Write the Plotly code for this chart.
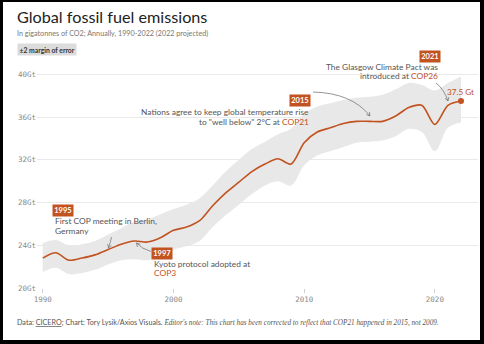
import math
import plotly.graph_objects as go

# ---------------- data ----------------
years = list(range(1990, 2023))
emissions = [22.8, 23.3, 22.6, 22.8, 23.1, 23.6, 24.1, 24.4, 24.3, 24.7,
             25.4, 25.7, 26.3, 27.7, 28.9, 29.9, 30.9, 31.6, 32.1, 31.6,
             33.6, 34.6, 35.0, 35.4, 35.6, 35.6, 35.6, 36.1, 36.9, 37.1,
             35.3, 37.1, 37.5]
upper = [24.2, 24.5, 24.0, 24.1, 24.4, 25.0, 25.6, 26.2, 26.4, 26.9,
         27.4, 27.8, 28.4, 29.6, 30.9, 32.0, 33.0, 33.7, 34.4, 34.9,
         36.3, 37.0, 37.3, 37.6, 37.8, 37.9, 38.1, 38.6, 39.2, 39.0,
         38.5, 39.2, 39.8]
lower = [21.5, 21.9, 21.3, 21.4, 21.7, 22.2, 22.6, 22.7, 22.6, 23.0,
         23.6, 23.9, 24.4, 25.7, 26.8, 27.8, 28.8, 29.6, 30.0, 29.6,
         31.5, 32.4, 32.8, 33.2, 33.6, 33.7, 33.8, 34.2, 34.9, 34.6,
         32.8, 35.0, 35.5]
y_ticks = [20, 24, 28, 32, 36, 40]
y_tick_labels = ["20Gt", "24Gt", "28Gt", "32Gt", "36Gt", "40Gt"]
x_ticks = [1990, 2000, 2010, 2020]
x_tick_labels = ["1990", "2000", "2010", "2020"]

# ---------------- styling / layout helpers ----------------
W, H = 484, 344
L, R, T, B = 37, 6, 69, 56
ORANGE = "#c2521f"
GREY_TXT = "#555555"
FONT = "Lato"
ANN_SIZE = 8.4


def px(x):
    return (x - L) / (W - L - R)


def py(y):
    return (H - B - y) / (H - T - B)


fig = go.Figure()

fig.add_trace(go.Scatter(x=years, y=lower, mode="lines",
                         line=dict(width=0, shape="spline", color="#e8e8e8"),
                         hoverinfo="skip", showlegend=False))
fig.add_trace(go.Scatter(x=years, y=upper, mode="lines", fill="tonexty",
                         fillcolor="#e8e8e8",
                         line=dict(width=0, shape="spline", color="#e8e8e8"),
                         hoverinfo="skip", showlegend=False))
fig.add_trace(go.Scatter(x=years, y=emissions, mode="lines",
                         line=dict(width=1.6, shape="spline", smoothing=0.8, color=ORANGE),
                         showlegend=False))
fig.add_trace(go.Scatter(x=[years[-1]], y=[emissions[-1]], mode="markers",
                         marker=dict(size=6, color=ORANGE),
                         showlegend=False))

annotations = []


def text(x, y, t, size=ANN_SIZE, color=GREY_TXT, xanchor="left", align="left", family=FONT, **kw):
    annotations.append(dict(xref="paper", yref="paper", x=px(x), y=py(y), text=t,
                            showarrow=False, xanchor=xanchor, yanchor="middle", align=align,
                            font=dict(size=size, color=color, family=family), **kw))


def badge(cx, cy, t):
    annotations.append(dict(xref="paper", yref="paper", x=px(cx), y=py(cy),
                            text="<b>" + t + "</b>", showarrow=False,
                            xanchor="center", yanchor="middle",
                            bgcolor=ORANGE, borderpad=1.2,
                            font=dict(size=7.5, color="white", family=FONT)))


def orange(t):
    return "<span style='color:%s'>%s</span>" % (ORANGE, t)


# Title & subtitle
text(15, 16, "Global fossil fuel emissions", size=16.2, color="#222222")
text(15, 34, "In gigatonnes of CO2; Annually, 1990-2022 (2022 projected)", size=7.2, color="#777777")
text(17, 49, "<b>±2 margin of error</b>", size=6.8, color="#333333",
     bgcolor="#dcdcdc", borderpad=1.5)

# Footer
text(15, 322,
     "Data: <u>CICERO</u>; Chart: Tory Lysik/Axios Visuals. "
     "<span style='font-family:Liberation Serif'><i>Editor's note: This chart has been corrected "
     "to reflect that COP21 happened in 2015, not 2009.</i></span>",
     size=7.2, color="#555555")

# Event annotations
badge(429.5, 56.5, "2021")
text(439.5, 66.7, "The Glasgow Climate Pact was", xanchor="right")
text(439.5, 76.2, "introduced at " + orange("COP26"), xanchor="right")
text(460, 91.5, "37.5 Gt", size=8.2, color=ORANGE, xanchor="center")

badge(300, 100.5, "2015")
text(311, 111.7, "Nations agree to keep global temperature rise", xanchor="right")
text(311, 121.5, "to \"well below\" 2°C at " + orange("COP21"), xanchor="right")

badge(63, 210.5, "1995")
text(52.5, 220.7, "First COP meeting in Berlin,")
text(52.5, 230.5, "Germany")

badge(162, 253.5, "1997")
text(152, 264, "Kyoto protocol adopted at")
text(152, 273.3, orange("COP3"))

shapes = []


def arrow(p0, c, p1, head=4.0):
    path = "M %f,%f Q %f,%f %f,%f" % (px(p0[0]), py(p0[1]), px(c[0]), py(c[1]), px(p1[0]), py(p1[1]))
    dx, dy = p1[0] - c[0], p1[1] - c[1]
    n = math.hypot(dx, dy)
    ux, uy = dx / n, dy / n
    pts = []
    for ang in (math.radians(150), math.radians(-150)):
        rx = ux * math.cos(ang) - uy * math.sin(ang)
        ry = ux * math.sin(ang) + uy * math.cos(ang)
        pts.append((p1[0] + rx * head, p1[1] + ry * head))
    path += " M %f,%f L %f,%f L %f,%f" % (px(pts[0][0]), py(pts[0][1]), px(p1[0]), py(p1[1]),
                                          px(pts[1][0]), py(pts[1][1]))
    shapes.append(dict(type="path", xref="paper", yref="paper", path=path,
                       line=dict(color="#7a7a7a", width=0.8)))


arrow((313, 92), (352, 93), (370, 116))
arrow((436, 83), (444, 89), (448, 101))
arrow((111.5, 237), (110.5, 242), (108.5, 248))
arrow((151, 251.5), (142, 249), (136.5, 243))

# black screenshot border
for (x0, y0, x1, y1) in [(0, 0, 3, H), (0, 0, W, 2), (480, 0, W, H), (0, 340, W, H)]:
    shapes.append(dict(type="rect", xref="paper", yref="paper",
                       x0=px(x0), x1=px(x1), y0=py(y0), y1=py(y1),
                       fillcolor="black", line=dict(width=0), layer="above"))

fig.update_layout(
    width=W, height=H,
    margin=dict(l=L, r=R, t=T, b=B),
    paper_bgcolor="white", plot_bgcolor="white",
    showlegend=False,
    annotations=annotations,
    shapes=shapes,
    xaxis=dict(range=[1989.56, 2023.3], tickvals=x_ticks, ticktext=x_tick_labels,
               showgrid=False, zeroline=False, showline=False,
               ticks="outside", ticklen=4, tickcolor="#d0d0d0",
               tickfont=dict(family="DejaVu Sans Mono", size=7.5, color="#8a8a8a"),
               fixedrange=True),
    yaxis=dict(range=[20, 40.5], tickvals=y_ticks, ticktext=y_tick_labels,
               showgrid=True, gridcolor="#e9e9e9", gridwidth=1,
               zeroline=False, showline=False, ticks="",
               tickfont=dict(family="DejaVu Sans Mono", size=7.5, color="#8a8a8a"),
               fixedrange=True),
)

fig.write_html("out.html")
